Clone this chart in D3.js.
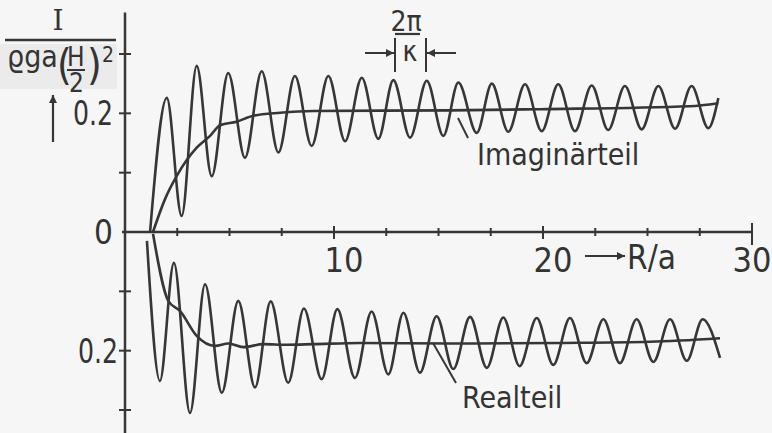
<!DOCTYPE html>
<html>
<head>
<meta charset="utf-8">
<script src="https://cdn.jsdelivr.net/npm/d3@7"></script>
<style>
  body { margin: 0; background: #f6f6f6; }
  svg { display: block; }
  .lbl { font-family: "Liberation Sans Narrow", "DejaVu Sans Condensed", sans-serif; fill: #333; }
</style>
</head>
<body>
<svg id="chart" width="772" height="433"></svg>
<script>
// Imaginärteil: oscillating curve (R/a, value) read at extremes
const imagOscR = [1.20, 2.00, 2.71, 3.43, 4.15, 4.94, 5.74, 6.54, 7.34, 8.13, 8.93, 9.73, 10.53, 11.33, 12.12, 12.84, 13.64, 14.44, 15.23, 15.95, 16.83, 17.55, 18.34, 19.14, 19.94, 20.73, 21.53, 22.33, 23.12, 23.92, 24.72, 25.52, 26.32, 27.11, 27.91, 28.39];
const imagOscI = [0.000, 0.226, 0.027, 0.280, 0.094, 0.268, 0.125, 0.271, 0.134, 0.263, 0.145, 0.263, 0.153, 0.260, 0.157, 0.256, 0.159, 0.255, 0.162, 0.252, 0.167, 0.250, 0.169, 0.249, 0.170, 0.249, 0.170, 0.247, 0.172, 0.246, 0.173, 0.246, 0.174, 0.246, 0.175, 0.226];

// Imaginärteil: mean curve
const imagMeanR = [1.34, 1.91, 2.47, 3.43, 4.07, 4.55, 5.34, 6.14, 7.42, 9.01, 15.55, 19.86, 27.03, 28.39];
const imagMeanI = [0.000, 0.055, 0.094, 0.142, 0.162, 0.180, 0.186, 0.196, 0.201, 0.204, 0.205, 0.207, 0.212, 0.217];

// Realteil: oscillating curve (drawn downward)
const realOscR = [1.05, 1.67, 2.34, 3.11, 3.83, 4.63, 5.42, 6.22, 6.97, 7.81, 8.56, 9.41, 10.16, 11.00, 11.80, 12.60, 13.32, 14.11, 14.91, 15.71, 16.51, 17.31, 18.10, 18.88, 19.70, 20.49, 21.29, 22.09, 22.89, 23.68, 24.48, 25.28, 26.08, 26.88, 27.64, 28.47];
const realOscI = [-0.015, -0.251, -0.052, -0.305, -0.088, -0.271, -0.116, -0.262, -0.117, -0.254, -0.129, -0.248, -0.130, -0.246, -0.134, -0.240, -0.136, -0.237, -0.142, -0.231, -0.143, -0.229, -0.144, -0.226, -0.145, -0.224, -0.145, -0.221, -0.147, -0.221, -0.147, -0.219, -0.147, -0.217, -0.147, -0.212];

// Realteil: mean curve
const realMeanR = [1.34, 2.07, 2.63, 3.43, 4.31, 4.94, 5.66, 6.62, 7.74, 9.01, 11.24, 15.55, 20.81, 25.12, 28.47];
const realMeanI = [-0.003, -0.116, -0.133, -0.175, -0.192, -0.188, -0.194, -0.189, -0.190, -0.189, -0.187, -0.188, -0.187, -0.185, -0.179];

// axis ticks
const xMinorTicks = [2.5, 5, 7.5, 12.5, 15, 17.5, 22.5, 25, 27.5];
const xMajorTicks = [10, 20, 30];
const xTickLabels = ["10", "20", "30"];
const yTicks = [-0.3, -0.2, -0.1, 0.1, 0.2, 0.3];
const yTickLabels = [{ v: 0.2, t: "0.2" }, { v: 0, t: "0" }, { v: -0.2, t: "0.2" }];

const ink = "#363636";
const svg = d3.select("#chart");

const x = d3.scaleLinear().domain([0, 30]).range([125, 752]);
const y = d3.scaleLinear().domain([-0.3, 0.3]).range([410, 54]);

// arrow marker
svg.append("defs").append("marker")
    .attr("id", "head")
    .attr("viewBox", "0 0 10 10")
    .attr("refX", 10).attr("refY", 5)
    .attr("markerWidth", 10).attr("markerHeight", 8)
    .attr("markerUnits", "userSpaceOnUse")
    .attr("orient", "auto")
  .append("path")
    .attr("d", "M0,0L10,5L0,10z")
    .attr("fill", ink);

// light box behind the y label (scan artefact)
svg.append("rect")
    .attr("x", 0).attr("y", 44).attr("width", 117).attr("height", 45)
    .attr("fill", "#ebebeb");

// axes
svg.append("line")
    .attr("x1", x(0)).attr("x2", x(0))
    .attr("y1", y(0.37)).attr("y2", 433)
    .attr("stroke", ink).attr("stroke-width", 2.5);
svg.append("line")
    .attr("x1", x(0) - 3).attr("x2", x(30))
    .attr("y1", y(0)).attr("y2", y(0))
    .attr("stroke", ink).attr("stroke-width", 2.5);

svg.selectAll(".ytick").data(yTicks).enter().append("line")
    .attr("x1", x(0) - 6).attr("x2", x(0) + 6)
    .attr("y1", d => y(d)).attr("y2", d => y(d))
    .attr("stroke", ink).attr("stroke-width", 2);

svg.selectAll(".xminor").data(xMinorTicks).enter().append("line")
    .attr("x1", d => x(d)).attr("x2", d => x(d))
    .attr("y1", y(0) - 4).attr("y2", y(0) + 4)
    .attr("stroke", ink).attr("stroke-width", 2);

svg.selectAll(".xmajor").data(xMajorTicks).enter().append("line")
    .attr("x1", d => x(d)).attr("x2", d => x(d))
    .attr("y1", d => y(0) - (d === 30 ? 9 : 6)).attr("y2", d => y(0) + (d === 30 ? 13 : 7))
    .attr("stroke", ink).attr("stroke-width", 2);

// tick labels
svg.selectAll(".xlab").data(xMajorTicks).enter().append("text")
    .attr("class", "lbl")
    .attr("x", (d, i) => x(d) + (i < 2 ? 10 : 0))
    .attr("y", 272)
    .attr("text-anchor", "middle")
    .attr("font-size", 34)
    .text((d, i) => xTickLabels[i]);

svg.selectAll(".ylab").data(yTickLabels).enter().append("text")
    .attr("class", "lbl")
    .attr("x", d => d.v < 0 ? 118 : 113)
    .attr("y", d => y(d.v) + 12)
    .attr("text-anchor", "end")
    .attr("font-size", 33)
    .attr("textLength", d => d.t.length > 1 ? 40 : null)
    .attr("lengthAdjust", "spacingAndGlyphs")
    .text(d => d.t);

// curves
const line = d3.line().curve(d3.curveMonotoneX);
function draw(rs, vs) {
    svg.append("path")
        .attr("d", line(rs.map((r, i) => [x(r), y(vs[i])])))
        .attr("fill", "none")
        .attr("stroke", ink)
        .attr("stroke-width", 2.6)
        .attr("stroke-linejoin", "round");
}
draw(imagOscR, imagOscI);
draw(imagMeanR, imagMeanI);
draw(realOscR, realOscI);
draw(realMeanR, realMeanI);

// curve labels with leader lines
svg.append("text").attr("class", "lbl")
    .attr("x", 477).attr("y", 165).attr("font-size", 30)
    .text("Imaginärteil");
svg.append("line")
    .attr("x1", 458).attr("y1", 118).attr("x2", 468).attr("y2", 138)
    .attr("stroke", ink).attr("stroke-width", 2);
svg.append("text").attr("class", "lbl")
    .attr("x", 462).attr("y", 408).attr("font-size", 30)
    .text("Realteil");
svg.append("line")
    .attr("x1", 433).attr("y1", 343).attr("x2", 456).attr("y2", 383)
    .attr("stroke", ink).attr("stroke-width", 2);

// R/a with arrow
svg.append("line")
    .attr("x1", 585).attr("y1", 256).attr("x2", 625).attr("y2", 256)
    .attr("stroke", ink).attr("stroke-width", 2)
    .attr("marker-end", "url(#head)");
svg.append("text").attr("class", "lbl")
    .attr("x", 627).attr("y", 269).attr("font-size", 33)
    .text("R/a");

// 2π/κ wavelength marker
svg.append("text").attr("class", "lbl")
    .attr("x", 406).attr("y", 31).attr("text-anchor", "middle").attr("font-size", 28)
    .text("2π");
svg.append("line")
    .attr("x1", 395).attr("y1", 34).attr("x2", 420).attr("y2", 34)
    .attr("stroke", ink).attr("stroke-width", 2.2);
svg.append("text").attr("class", "lbl")
    .attr("x", 410).attr("y", 61).attr("text-anchor", "middle").attr("font-size", 28)
    .text("κ");
[395, 426].forEach(px => {
    svg.append("line")
        .attr("x1", px).attr("y1", 38).attr("x2", px).attr("y2", 72)
        .attr("stroke", ink).attr("stroke-width", 2);
});
svg.append("line")
    .attr("x1", 365).attr("y1", 53).attr("x2", 394).attr("y2", 53)
    .attr("stroke", ink).attr("stroke-width", 2).attr("marker-end", "url(#head)");
svg.append("line")
    .attr("x1", 456).attr("y1", 53).attr("x2", 427).attr("y2", 53)
    .attr("stroke", ink).attr("stroke-width", 2).attr("marker-end", "url(#head)");

// y label: I / (ϱ g a (H/2)^2)
svg.append("text")
    .attr("x", 58).attr("y", 30).attr("text-anchor", "middle")
    .attr("font-family", "DejaVu Serif, serif").attr("font-size", 28)
    .attr("fill", "#333")
    .text("I");
svg.append("line")
    .attr("x1", 5).attr("y1", 40).attr("x2", 116).attr("y2", 40)
    .attr("stroke", ink).attr("stroke-width", 2.5);
svg.append("text").attr("class", "lbl")
    .attr("x", 7).attr("y", 67).attr("font-size", 30)
    .text("ϱga");
svg.append("text").attr("class", "lbl")
    .attr("x", 57).attr("y", 80).attr("font-size", 42)
    .text("(");
svg.append("text").attr("class", "lbl")
    .attr("x", 67).attr("y", 66).attr("font-size", 26)
    .text("H");
svg.append("line")
    .attr("x1", 67).attr("y1", 70).attr("x2", 85).attr("y2", 70)
    .attr("stroke", ink).attr("stroke-width", 2);
svg.append("text").attr("class", "lbl")
    .attr("x", 69).attr("y", 92).attr("font-size", 26)
    .text("2");
svg.append("text").attr("class", "lbl")
    .attr("x", 87).attr("y", 80).attr("font-size", 42)
    .text(")");
svg.append("text").attr("class", "lbl")
    .attr("x", 102).attr("y", 62).attr("font-size", 21)
    .text("2");

// vertical arrow beside the y label
svg.append("line")
    .attr("x1", 53).attr("y1", 142).attr("x2", 53).attr("y2", 95)
    .attr("stroke", ink).attr("stroke-width", 2.2)
    .attr("marker-end", "url(#head)");
</script>
</body>
</html>
